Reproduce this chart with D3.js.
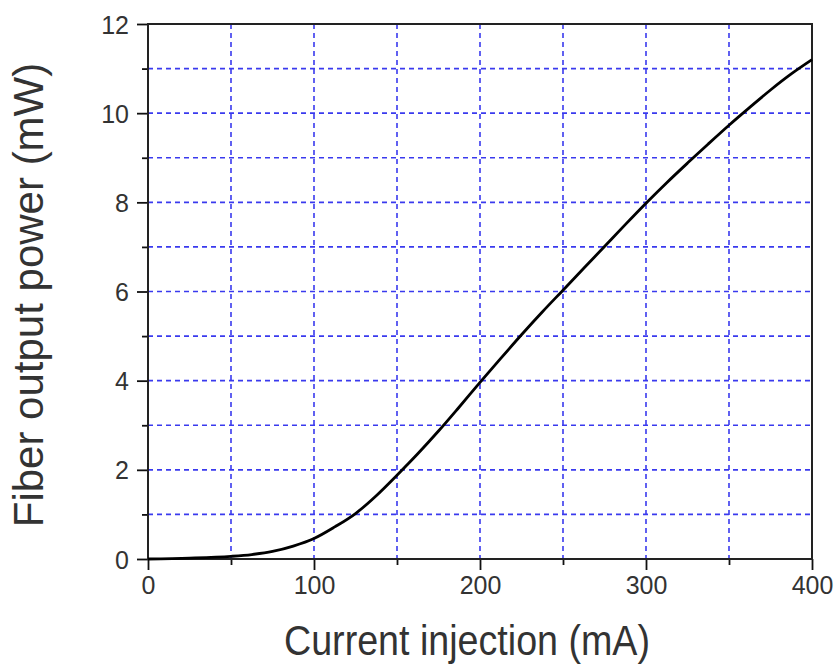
<!DOCTYPE html>
<html>
<head>
<meta charset="utf-8">
<script src="https://cdn.jsdelivr.net/npm/d3@7"></script>
<style>
  body { margin: 0; background: #fff; }
  text { font-family: "Liberation Sans", Arial, sans-serif; fill: #333; }
</style>
</head>
<body>
<div id="chart-area"></div>
<script>
// data
let current = [0, 25, 50, 62.5, 75, 87.5, 100, 112.5, 125, 137.5, 150, 162.5, 175, 187.5, 200, 212.5, 225, 237.5, 250, 262.5, 275, 287.5, 300, 312.5, 325, 337.5, 350, 362.5, 375, 387.5, 400];
let power = [0, 0.02, 0.06, 0.1, 0.17, 0.29, 0.46, 0.72, 1.02, 1.42, 1.88, 2.36, 2.87, 3.41, 3.96, 4.5, 5.03, 5.54, 6.03, 6.52, 7.01, 7.5, 7.98, 8.44, 8.88, 9.31, 9.73, 10.13, 10.52, 10.88, 11.2];

let xMajor = [0, 100, 200, 300, 400];
let xMinor = [50, 150, 250, 350];
let yMajor = [0, 2, 4, 6, 8, 10, 12];
let yMinor = [1, 3, 5, 7, 9, 11];
let xGrid = [50, 100, 150, 200, 250, 300, 350];
let yGrid = [1, 2, 3, 4, 5, 6, 7, 8, 9, 10, 11];

let margin = { top: 24, right: 24, bottom: 108, left: 148 },
  width = 836 - margin.left - margin.right,
  height = 667 - margin.top - margin.bottom;

let svg = d3
  .select("#chart-area")
  .append("svg")
  .attr("width", 836)
  .attr("height", 667)
  .append("g")
  .attr("transform", "translate(" + margin.left + "," + margin.top + ")");

let x = d3.scaleLinear().domain([0, 400]).range([0, width]);
let y = d3.scaleLinear().domain([0, 12]).range([height, 0]);

// ---- GRID ----
svg
  .selectAll(".vgrid")
  .data(xGrid)
  .enter()
  .append("line")
  .attr("class", "vgrid")
  .attr("x1", (d) => x(d))
  .attr("x2", (d) => x(d))
  .attr("y1", 0)
  .attr("y2", height)
  .attr("stroke", "#3a3aee")
  .attr("stroke-width", 1.6)
  .attr("stroke-dasharray", "5,4");

svg
  .selectAll(".hgrid")
  .data(yGrid)
  .enter()
  .append("line")
  .attr("class", "hgrid")
  .attr("x1", 0)
  .attr("x2", width)
  .attr("y1", (d) => y(d))
  .attr("y2", (d) => y(d))
  .attr("stroke", "#3a3aee")
  .attr("stroke-width", 1.6)
  .attr("stroke-dasharray", "5,4");

// ---- AXES ----
let xAxis = d3.axisBottom(x).tickValues(xMajor).tickSize(11).tickPadding(6);
let yAxis = d3.axisLeft(y).tickValues(yMajor).tickSize(11).tickPadding(8);

let xAxisGroup = svg
  .append("g")
  .attr("class", "x-axis axis")
  .attr("transform", "translate(0," + height + ")")
  .call(xAxis);

let yAxisGroup = svg.append("g").attr("class", "y-axis axis").call(yAxis);

svg
  .append("g")
  .attr("transform", "translate(0," + height + ")")
  .call(d3.axisBottom(x).tickValues(xMinor).tickSize(6).tickFormat(""));

svg
  .append("g")
  .call(d3.axisLeft(y).tickValues(yMinor).tickSize(6).tickFormat(""));

svg.selectAll(".domain").remove();
svg.selectAll(".tick line").attr("stroke", "#111").attr("stroke-width", 1.8);
xAxisGroup.selectAll("text").style("font-size", "25px").attr("fill", "#333");
yAxisGroup.selectAll("text").style("font-size", "25px").attr("fill", "#333").attr("dy", "0.36em");

// frame
svg
  .append("rect")
  .attr("x", 0)
  .attr("y", 0)
  .attr("width", width)
  .attr("height", height)
  .attr("fill", "none")
  .attr("stroke", "#222")
  .attr("stroke-width", 2);

// ---- CURVE ----
let line = d3
  .line()
  .x((d, i) => x(current[i]))
  .y((d) => y(d))
  .curve(d3.curveMonotoneX);

svg
  .append("path")
  .datum(power)
  .attr("d", line)
  .attr("fill", "none")
  .attr("stroke", "#000")
  .attr("stroke-width", 2.8);

// ---- TITLES ----
svg
  .append("text")
  .attr("x", width / 2 - 13)
  .attr("y", height + 96)
  .style("text-anchor", "middle")
  .style("font-size", "42px")
  .attr("textLength", 366)
  .attr("lengthAdjust", "spacingAndGlyphs")
  .text("Current injection (mA)");

svg
  .append("text")
  .attr("transform", "translate(" + (43 - margin.left) + "," + (295 - margin.top) + ") rotate(-90)")
  .style("text-anchor", "middle")
  .style("font-size", "42px")
  .text("Fiber output power (mW)");
</script>
</body>
</html>
